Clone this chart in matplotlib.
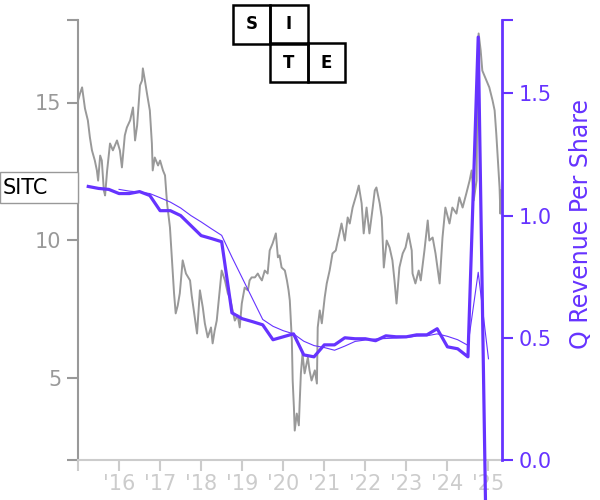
import matplotlib
matplotlib.use("Agg")
import matplotlib.pyplot as plt
import matplotlib.transforms as mtransforms
from matplotlib.patches import Rectangle

PURPLE = "#6633ff"
GRAY = "#999999"
LIGHT = "#cccccc"

# ---- daily-ish share price ----
price_years = [
    2015.00, 2015.05, 2015.10, 2015.17, 2015.24, 2015.29, 2015.34, 2015.41, 2015.46, 2015.49,
    2015.54, 2015.58, 2015.63, 2015.66, 2015.71, 2015.78, 2015.85, 2015.95, 2016.02, 2016.07,
    2016.14, 2016.19, 2016.27, 2016.34, 2016.39, 2016.44, 2016.51, 2016.56, 2016.58, 2016.63,
    2016.68, 2016.75, 2016.80, 2016.82, 2016.87, 2016.95, 2017.00, 2017.07, 2017.12, 2017.17,
    2017.24, 2017.29, 2017.34, 2017.38, 2017.43, 2017.48, 2017.55, 2017.63, 2017.73, 2017.77,
    2017.82, 2017.90, 2017.97, 2018.04, 2018.09, 2018.16, 2018.24, 2018.28, 2018.33, 2018.38,
    2018.46, 2018.50, 2018.58, 2018.65, 2018.70, 2018.75, 2018.82, 2018.89, 2018.94, 2018.99,
    2019.06, 2019.14, 2019.18, 2019.23, 2019.31, 2019.38, 2019.43, 2019.48, 2019.55, 2019.62,
    2019.67, 2019.74, 2019.82, 2019.87, 2019.91, 2019.96, 2020.04, 2020.09, 2020.13, 2020.16,
    2020.21, 2020.23, 2020.26, 2020.28, 2020.33, 2020.38, 2020.40, 2020.43, 2020.47, 2020.52,
    2020.60, 2020.64, 2020.69, 2020.77, 2020.82, 2020.84, 2020.89, 2020.94, 2021.01, 2021.06,
    2021.13, 2021.20, 2021.28, 2021.33, 2021.37, 2021.42, 2021.50, 2021.57, 2021.62, 2021.69,
    2021.74, 2021.79, 2021.84, 2021.91, 2021.96, 2022.03, 2022.10, 2022.18, 2022.23, 2022.27,
    2022.35, 2022.40, 2022.45, 2022.52, 2022.59, 2022.66, 2022.71, 2022.76, 2022.83, 2022.91,
    2022.98, 2023.05, 2023.13, 2023.15, 2023.22, 2023.30, 2023.35, 2023.44, 2023.52, 2023.56,
    2023.64, 2023.71, 2023.81, 2023.86, 2023.88, 2023.95, 2024.05, 2024.12, 2024.22, 2024.29,
    2024.37, 2024.46, 2024.54, 2024.59, 2024.64, 2024.71, 2024.73, 2024.76, 2024.81, 2024.85,
    2024.95, 2025.02, 2025.10, 2025.15, 2025.19, 2025.24, 2025.27, 2025.29, 2025.31,
]
price_vals = [
    15.07, 15.33, 15.55, 14.78, 14.35, 13.73, 13.26, 12.89, 12.53, 12.16,
    13.07, 12.89, 11.80, 11.62, 12.53, 13.51, 13.26, 13.62, 13.26, 12.64,
    13.80, 14.09, 14.35, 14.82, 13.62, 14.16, 15.62, 15.80, 16.24, 15.80,
    15.33, 14.71, 13.51, 12.53, 13.00, 12.71, 12.89, 12.53, 12.35, 11.33,
    10.46, 9.26, 8.06, 7.33, 7.62, 8.06, 9.26, 8.78, 8.53, 7.98,
    7.44, 6.60, 8.17, 7.55, 6.97, 6.46, 6.82, 6.24, 6.71, 7.07,
    8.27, 8.89, 8.53, 8.06, 7.91, 7.55, 7.07, 7.26, 6.82, 7.69,
    8.27, 8.17, 8.53, 8.64, 8.64, 8.78, 8.64, 8.53, 8.89, 8.78,
    9.62, 9.87, 10.24, 9.37, 9.44, 9.00, 8.89, 8.53, 8.17, 7.80,
    6.35, 4.89, 3.91, 3.07, 3.69, 3.26, 4.06, 5.15, 5.87, 5.15,
    5.73, 5.26, 4.89, 5.26, 4.78, 6.82, 7.44, 6.97, 7.91, 8.42,
    8.89, 9.51, 9.62, 9.98, 10.24, 10.60, 9.98, 10.82, 10.60, 11.18,
    11.44, 11.69, 11.98, 11.33, 10.24, 11.18, 10.24, 11.18, 11.80, 11.91,
    11.33, 10.82, 9.00, 9.98, 9.73, 9.26, 8.53, 7.69, 9.00, 9.51,
    9.73, 10.24, 9.62, 8.78, 8.42, 8.89, 8.53, 9.62, 10.71, 9.98,
    10.09, 9.51, 8.42, 9.62, 10.09, 11.18, 10.60, 11.18, 10.96, 11.55,
    11.18, 11.69, 12.16, 12.53, 11.44, 12.16, 15.55, 17.51, 16.89, 16.16,
    15.80, 15.55, 15.07, 14.71, 13.87, 12.64, 11.91, 10.96, 11.80,
]

# ---- quarterly revenue per share ----
q_years = [2015.25 + 0.25 * i for i in range(40)]
q_rev = [
    1.119, 1.111, 1.107, 1.090, 1.090, 1.098, 1.082, 1.020, 1.020, 1.000,
    0.959, 0.918, 0.906, 0.893, 0.602, 0.578, 0.566, 0.553, 0.492, 0.504,
    0.516, 0.430, 0.422, 0.471, 0.471, 0.500, 0.496, 0.496, 0.488, 0.508,
    0.504, 0.504, 0.512, 0.512, 0.537, 0.463, 0.455, 0.422, 1.730, -0.950,
]
# trailing average line (starts 2016.0)
avg_years = q_years[3:]
avg_rev = [
    1.107, 1.100, 1.096, 1.090, 1.073, 1.055, 1.031, 1.000, 0.974, 0.946,
    0.919, 0.830, 0.745, 0.660, 0.575, 0.547, 0.529, 0.516, 0.486, 0.468,
    0.460, 0.449, 0.466, 0.485, 0.491, 0.495, 0.497, 0.499, 0.501, 0.507,
    0.508, 0.516, 0.506, 0.492, 0.469, 0.768, 0.414,
]

year_ticks = list(range(2015, 2026))
year_labels = [""] + ["'%02d" % (y % 100) for y in range(2016, 2026)]
ticker = "SITC"
label_price = 11.9
logo = [("S", 0, 0), ("I", 1, 0), ("T", 1, 1), ("E", 2, 1)]

fig = plt.figure(figsize=(6, 5), dpi=100)
ax = fig.add_axes([0.13, 0.08, 0.7067, 0.88])
ax.plot(price_years, price_vals, color=GRAY, lw=1.4)
ax.set_xlim(2015.0, 2025.33)
ax.set_ylim(2, 18)
ax.set_yticks([2, 5, 10, 15, 18])
ax.set_yticklabels(["", "5", "10", "15", ""])
ax.set_xticks(year_ticks)
ax.set_xticklabels(year_labels)
for s in ("top", "right"):
    ax.spines[s].set_visible(False)
ax.spines["left"].set_color(GRAY)
ax.spines["left"].set_linewidth(1.5)
ax.spines["bottom"].set_color(LIGHT)
ax.spines["bottom"].set_linewidth(1.5)
ax.tick_params(axis="y", colors=GRAY, labelsize=15, length=8, width=1.5, pad=4)
ax.tick_params(axis="x", colors=LIGHT, labelsize=15, length=8, width=1.5, pad=2)

ax2 = ax.twinx()
ax2.plot(avg_years, avg_rev, color=PURPLE, lw=0.8)
ax2.plot(q_years, q_rev, color=PURPLE, lw=2.3, clip_on=False)
ax2.set_ylim(0, 1.8)
ax2.set_yticks([0, 0.5, 1.0, 1.5, 1.8])
ax2.set_yticklabels(["0.0", "0.5", "1.0", "1.5", ""])
for s in ("top", "left", "bottom"):
    ax2.spines[s].set_visible(False)
ax2.spines["right"].set_color(PURPLE)
ax2.spines["right"].set_linewidth(2)
ax2.tick_params(axis="y", colors=PURPLE, labelsize=15, length=8, width=1.5, pad=4)
ax2.set_ylabel("Q Revenue Per Share", color=PURPLE, fontsize=17)
ax2.yaxis.set_label_coords(1.158, 0.536)

# ticker label box
trans = mtransforms.blended_transform_factory(fig.transFigure, ax.transData)
fig.patches.append(Rectangle((0.0, label_price - 0.56), 0.13, 1.12, transform=trans,
                             fill=True, fc="white", ec=GRAY, lw=1.0))
fig.text(0.005, label_price, ticker, transform=trans, fontsize=15, va="center",
         ha="left", color="black")

# logo
bw, bh = 0.0625, 0.077
x0, y0 = 0.388, 0.913
for letter, cx, cy in logo:
    fig.patches.append(Rectangle((x0 + cx * bw, y0 - cy * bh), bw, bh, transform=fig.transFigure,
                                 fill=False, ec="black", lw=1.8))
    fig.text(x0 + cx * bw + bw / 2, y0 - cy * bh + bh / 2, letter, fontsize=12,
             fontweight="bold", ha="center", va="center")

fig.savefig("out.png", dpi=100)
